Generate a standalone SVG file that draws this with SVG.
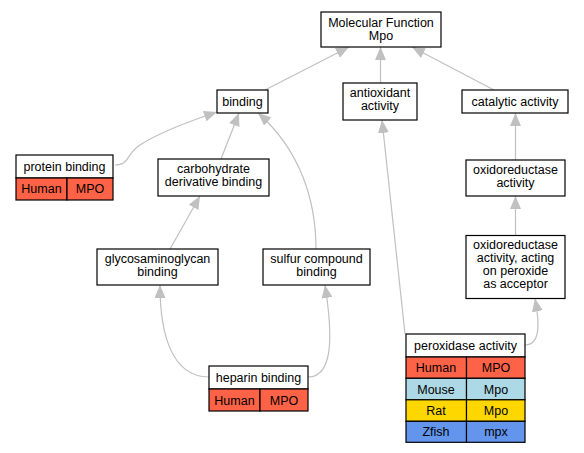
<svg xmlns="http://www.w3.org/2000/svg" width="584" height="453" viewBox="0 0 584 453">
<style>
text{font-family:"Liberation Sans",Arial,sans-serif;font-size:12.5px;fill:#000;text-anchor:middle}
.box{fill:#fff;stroke:#000;stroke-width:1.2}
.cell{stroke:#000;stroke-width:1.2}
.hu{fill:#ff6347}.mo{fill:#add8e6}.ra{fill:#ffd700}.zf{fill:#6495ed}
.edge{fill:none;stroke:#c0c0c0;stroke-width:1.2;marker-end:url(#arr)}
</style>
<defs>
<marker id="arr" markerUnits="userSpaceOnUse" markerWidth="13" markerHeight="11" refX="13" refY="5.5" orient="auto">
<path d="M0,0 L13,5.5 L0,11 z" fill="#c0c0c0"/>
</marker>
</defs>
<rect width="584" height="453" fill="#fff"/>
<g id="edges">
<path class="edge" d="M265,90 L349,47"/>
<path class="edge" d="M380.5,83 L380.5,47"/>
<path class="edge" d="M494,90 L412,47"/>
<path class="edge" d="M515.5,160 L515.5,113"/>
<path class="edge" d="M515.5,235 L515.5,196"/>
<path class="edge" d="M525,345 C540,345 540,325 535,298.5"/>
<path class="edge" d="M405,334 L382,120"/>
<path class="edge" d="M115,165 C130,165 125,155 140,145 C160,132 190,121 217,112"/>
<path class="edge" d="M221,159 L239,113"/>
<path class="edge" d="M316,249 C316,200 300,150 258,113"/>
<path class="edge" d="M170,249 L200,196"/>
<path class="edge" d="M209,377 C170,377 160,330 160,285"/>
<path class="edge" d="M308,377 C335,377 332,330 325,285"/>
</g>
<g id="mf">
<rect class="box" x="321" y="12" width="120" height="35"/>
<text x="381" y="26.5">Molecular Function</text>
<text x="381" y="39.5">Mpo</text>
</g>
<g id="antioxidant">
<rect class="box" x="343" y="83" width="74" height="37"/>
<text x="380" y="97">antioxidant</text>
<text x="380" y="110">activity</text>
</g>
<g id="catalytic">
<rect class="box" x="462" y="90" width="106" height="23"/>
<text x="515" y="106">catalytic activity</text>
</g>
<g id="oxidoreductase">
<rect class="box" x="466" y="160" width="99" height="36"/>
<text x="515.5" y="174">oxidoreductase</text>
<text x="515.5" y="187">activity</text>
</g>
<g id="binding">
<rect class="box" x="217" y="90" width="51" height="23"/>
<text x="242.5" y="106">binding</text>
</g>
<g id="protein">
<rect class="box" x="16" y="155" width="97" height="23"/>
<text x="64.5" y="171">protein binding</text>
<rect class="cell hu" x="16" y="178" width="51" height="22"/>
<rect class="cell hu" x="67" y="178" width="46" height="22"/>
<text x="41.5" y="193">Human</text>
<text x="90" y="193">MPO</text>
</g>
<g id="carbohydrate">
<rect class="box" x="158" y="159" width="111" height="37"/>
<text x="213.5" y="173">carbohydrate</text>
<text x="213.5" y="186">derivative binding</text>
</g>
<g id="glycosaminoglycan">
<rect class="box" x="97" y="249" width="121" height="36"/>
<text x="157.5" y="263">glycosaminoglycan</text>
<text x="157.5" y="276">binding</text>
</g>
<g id="sulfur">
<rect class="box" x="263" y="249" width="107" height="36"/>
<text x="316.5" y="263">sulfur compound</text>
<text x="316.5" y="276">binding</text>
</g>
<g id="heparin">
<rect class="box" x="209" y="366" width="99" height="23"/>
<text x="258.5" y="382">heparin binding</text>
<rect class="cell hu" x="209" y="389" width="51" height="22"/>
<rect class="cell hu" x="260" y="389" width="48" height="22"/>
<text x="234.5" y="404.5">Human</text>
<text x="284" y="404.5">MPO</text>
</g>
<g id="acting">
<rect class="box" x="466" y="235.5" width="99" height="63"/>
<text x="515.5" y="249">oxidoreductase</text>
<text x="515.5" y="262">activity, acting</text>
<text x="515.5" y="275">on peroxide</text>
<text x="515.5" y="288">as acceptor</text>
</g>
<g id="peroxidase">
<rect class="box" x="406" y="334" width="119" height="23"/>
<text x="465.5" y="350">peroxidase activity</text>
<rect class="cell hu" x="406" y="357" width="60.5" height="21.3"/>
<rect class="cell hu" x="466.5" y="357" width="58.5" height="21.3"/>
<rect class="cell mo" x="406" y="378.3" width="60.5" height="21.5"/>
<rect class="cell mo" x="466.5" y="378.3" width="58.5" height="21.5"/>
<rect class="cell ra" x="406" y="399.8" width="60.5" height="21.5"/>
<rect class="cell ra" x="466.5" y="399.8" width="58.5" height="21.5"/>
<rect class="cell zf" x="406" y="421.3" width="60.5" height="21"/>
<rect class="cell zf" x="466.5" y="421.3" width="58.5" height="21"/>
<text x="436" y="372">Human</text>
<text x="496" y="372">MPO</text>
<text x="436" y="393.5">Mouse</text>
<text x="496" y="393.5">Mpo</text>
<text x="436" y="415">Rat</text>
<text x="496" y="415">Mpo</text>
<text x="436" y="436.3">Zfish</text>
<text x="496" y="436.3">mpx</text>
</g>
</svg>
